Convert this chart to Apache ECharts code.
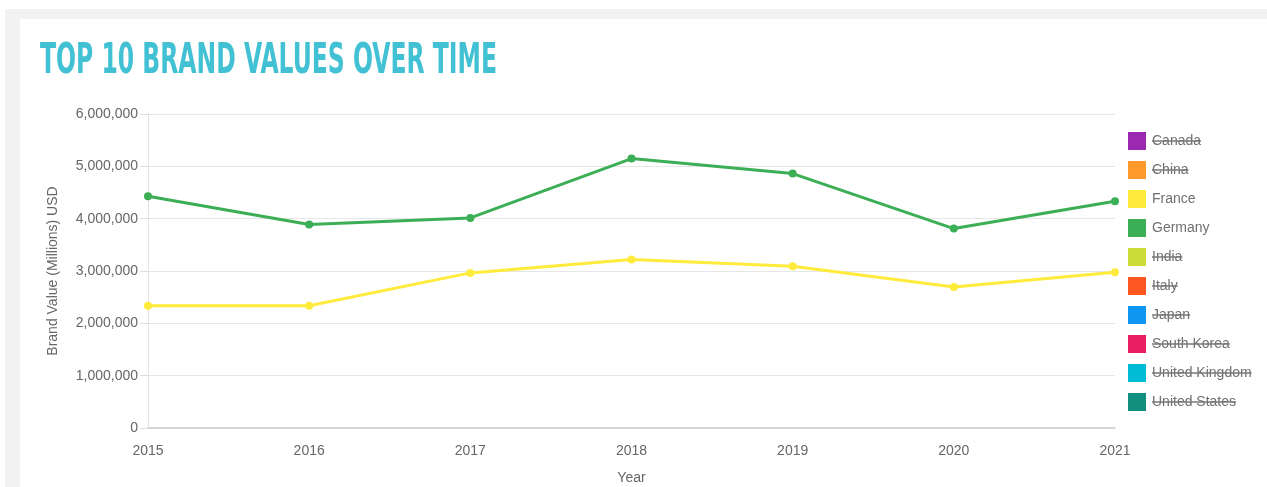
<!DOCTYPE html>
<html>
<head>
<meta charset="utf-8">
<script src="https://cdn.jsdelivr.net/npm/echarts@6/dist/echarts.min.js"></script>
<style>
  html, body { margin: 0; padding: 0; background: #ffffff; width: 1267px; height: 487px; overflow: hidden; }
  #frame { position: absolute; left: 5px; top: 9px; width: 1262px; height: 478px; background: #f2f2f2; }
  #card { position: absolute; left: 20px; top: 19px; width: 1247px; height: 468px; background: #ffffff; }
  #chart { position: absolute; left: 0; top: 0; width: 1267px; height: 487px; }
</style>
</head>
<body>
<div id="frame"></div>
<div id="card"></div>
<div id="chart"></div>
<script>
// ---- data ----
const titleText = 'TOP 10 BRAND VALUES OVER TIME';
const years = ['2015', '2016', '2017', '2018', '2019', '2020', '2021'];
const countries = ['Canada', 'China', 'France', 'Germany', 'India', 'Italy', 'Japan', 'South Korea', 'United Kingdom', 'United States'];
const countryColors = ['#9c27b0', '#ff9a2e', '#ffeb3b', '#3cae55', '#cddc39', '#ff5722', '#0d96f2', '#e91e63', '#00bcd4', '#138f80'];
const hiddenCountries = ['Canada', 'China', 'India', 'Italy', 'Japan', 'South Korea', 'United Kingdom', 'United States'];
const franceValues = [2338000, 2335000, 2964000, 3218000, 3090000, 2696000, 2975000];
const germanyValues = [4428000, 3887000, 4015000, 5149000, 4862000, 3811000, 4333000];
const yAxisTitle = 'Brand Value (Millions) USD';
const xAxisTitle = 'Year';

const seriesValues = { 'France': franceValues, 'Germany': germanyValues };

const FONT = '"Liberation Sans", Arial, Helvetica, sans-serif';
const chart = echarts.init(document.getElementById('chart'), null, { renderer: 'canvas' });

// measure helpers
const mctx = document.createElement('canvas').getContext('2d');
function measure(text, font) { mctx.font = font; return mctx.measureText(text).width; }

const titleFont = 'bold 42px "DejaVu Sans Condensed"';
const titleW = measure(titleText, titleFont);
const titleScale = 457 / titleW;

const legendLeft = 1128, legendTop = 132, itemH = 18, itemGap = 11, textX = 1152;
const strikeLines = [];
countries.forEach((c, i) => {
  if (hiddenCountries.indexOf(c) >= 0) {
    const w = measure(c, '14px ' + FONT);
    const y = legendTop + i * (itemH + itemGap) + itemH / 2;
    strikeLines.push({
      type: 'line', silent: true, z: 100,
      shape: { x1: textX, y1: y, x2: textX + w, y2: y },
      style: { stroke: '#777777', lineWidth: 1.5 }
    });
  }
});

const series = countries.map((c, i) => ({
  name: c,
  type: 'line',
  data: seriesValues[c] || [],
  color: countryColors[i],
  lineStyle: { width: 3, color: countryColors[i] },
  itemStyle: { color: countryColors[i] },
  symbol: 'circle',
  symbolSize: 8,
  showSymbol: true,
  emphasis: { disabled: true },
  animation: false
}));

const option = {
  animation: false,
  textStyle: { fontFamily: FONT },
  grid: { left: 148, right: 152, top: 114, bottom: 59, containLabel: false, outerBoundsMode: 'none' },
  legend: {
    orient: 'vertical',
    left: legendLeft, top: legendTop,
    padding: 0,
    itemWidth: 18, itemHeight: itemH, itemGap: itemGap,
    icon: 'rect',
    data: countries,
    textStyle: { color: '#707070', fontSize: 14, fontFamily: FONT, padding: [0, 0, 0, 1] }
  },
  xAxis: {
    type: 'category',
    data: years,
    boundaryGap: false,
    name: xAxisTitle,
    nameLocation: 'middle',
    nameGap: 43,
    nameTextStyle: { color: '#666666', fontSize: 14, fontFamily: FONT },
    axisLine: { show: true, lineStyle: { color: '#cccccc', width: 1.5 } },
    axisTick: { show: false },
    axisLabel: { color: '#666666', fontSize: 14, margin: 16, fontFamily: FONT },
    splitLine: { show: false }
  },
  yAxis: {
    type: 'value',
    min: 0, max: 6000000, interval: 1000000,
    name: yAxisTitle,
    nameLocation: 'middle',
    nameGap: 88,
    nameTextStyle: { color: '#666666', fontSize: 14, fontFamily: FONT },
    axisLine: { show: true, lineStyle: { color: '#e3e3e3', width: 1 } },
    axisTick: { show: true, length: 8, lineStyle: { color: '#dddddd' } },
    axisLabel: { color: '#666666', fontSize: 14, margin: 10, fontFamily: FONT,
      formatter: v => v.toLocaleString('en-US') },
    splitLine: { show: true, lineStyle: { color: '#e6e6e6', width: 1 } }
  },
  graphic: [
    {
      type: 'text', x: 40, y: 41, scaleX: titleScale, silent: true,
      style: { text: titleText, font: titleFont, fill: '#41c1d3', textBaseline: 'middle', textAlign: 'left' }
    }
  ].concat(strikeLines),
  series: series
};
chart.setOption(option);
</script>
</body>
</html>
